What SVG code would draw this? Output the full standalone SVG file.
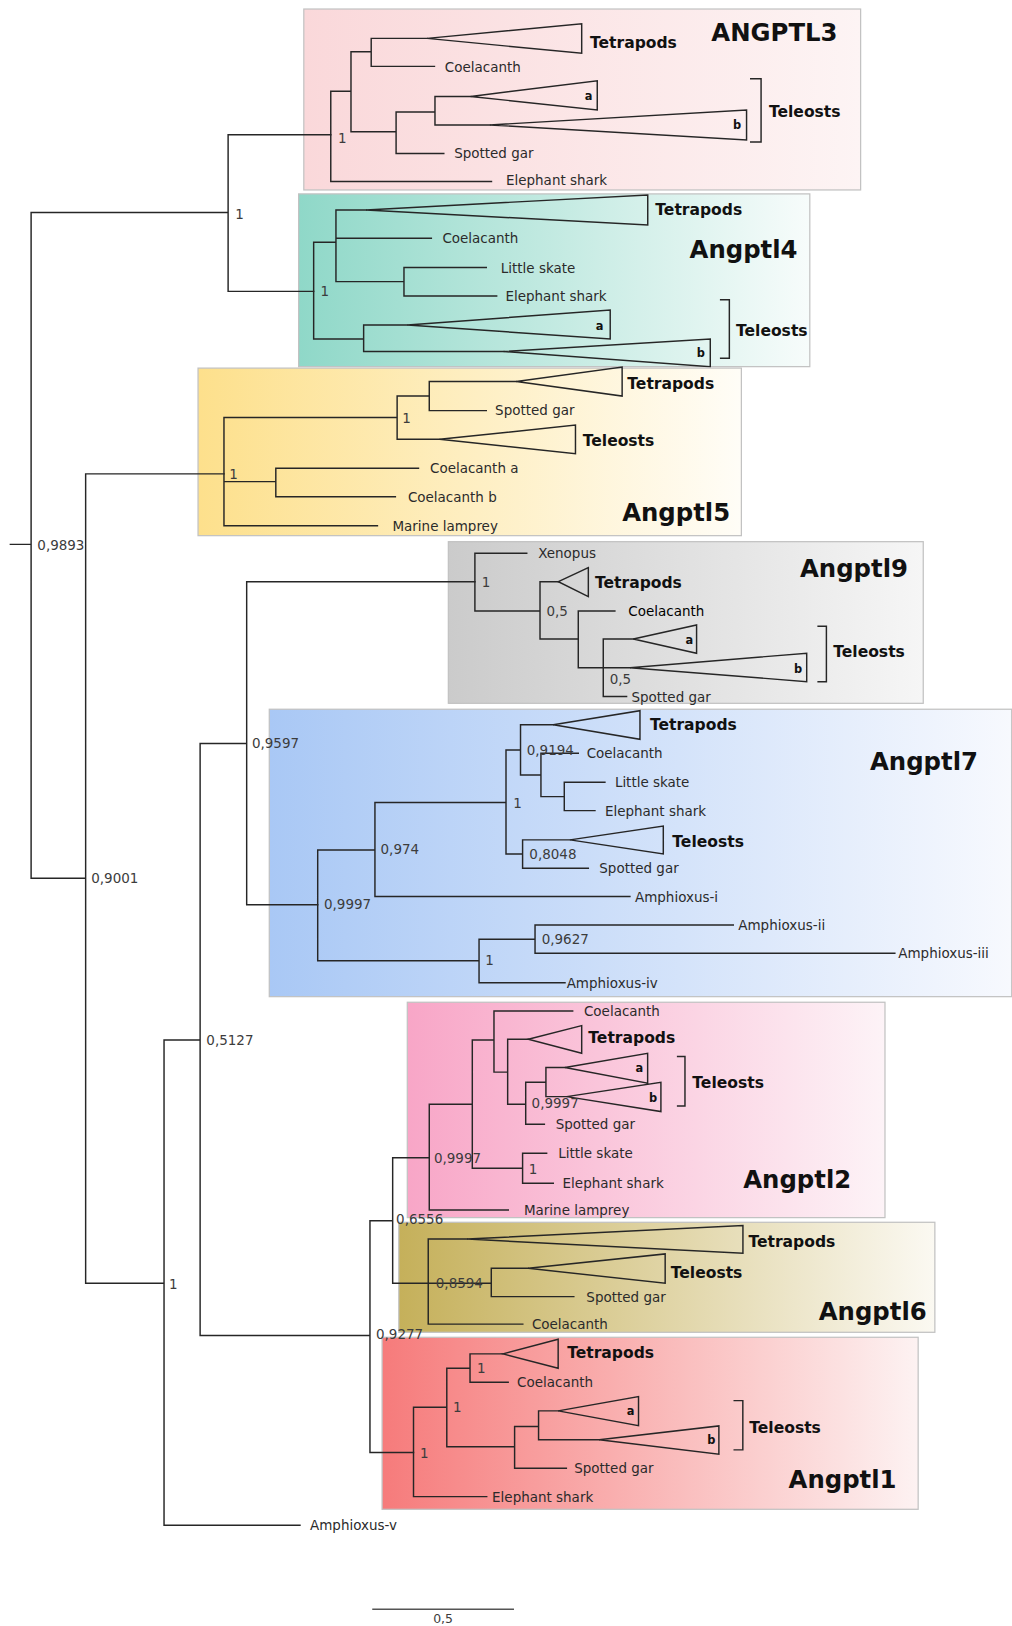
<svg xmlns="http://www.w3.org/2000/svg" width="1012" height="1626" viewBox="0 0 1012 1626">
<style>
.br{fill:none;stroke:#262626;stroke-width:1.4;stroke-linecap:square}
.tri{fill:none;stroke:#262626;stroke-width:1.4;stroke-linejoin:miter}
.box{stroke:#c2c2c2;stroke-width:1.2}
text{font-family:"DejaVu Sans","Liberation Sans",sans-serif;dominant-baseline:central}
.lf{font-size:13px;fill:#2b2b2b}
.bs{font-size:13px;fill:#3c3c3c}
.cl{font-size:15px;font-weight:bold;fill:#111}
.ab{font-size:11px;font-weight:bold;fill:#111}
.ti{font-size:23.5px;font-weight:bold;fill:#111}
</style>
<defs>
<linearGradient id="g3"><stop offset="0" stop-color="#fad8da"/><stop offset="1" stop-color="#fdf4f4"/></linearGradient>
<linearGradient id="g4"><stop offset="0" stop-color="#8fd8c8"/><stop offset="1" stop-color="#f7fcfb"/></linearGradient>
<linearGradient id="g5"><stop offset="0" stop-color="#fde08c"/><stop offset="1" stop-color="#fffdf7"/></linearGradient>
<linearGradient id="g9"><stop offset="0" stop-color="#cbcbcb"/><stop offset="1" stop-color="#f6f6f6"/></linearGradient>
<linearGradient id="g7"><stop offset="0" stop-color="#a9c8f5"/><stop offset="1" stop-color="#f7f9fe"/></linearGradient>
<linearGradient id="g2"><stop offset="0" stop-color="#f8a6c7"/><stop offset="1" stop-color="#fdf3f7"/></linearGradient>
<linearGradient id="g6"><stop offset="0" stop-color="#c5b05a"/><stop offset="1" stop-color="#fbf9f2"/></linearGradient>
<linearGradient id="g1"><stop offset="0" stop-color="#f67b7b"/><stop offset="1" stop-color="#fdf2f2"/></linearGradient>
</defs>
<rect width="1012" height="1626" fill="#ffffff"/>
<g transform="scale(1.03689)">

<g id="ANGPTL3">
<rect class="box" x="293" y="8.7" width="537" height="174.5" fill="url(#g3)"/>
<text class="ti" x="686" y="31">ANGPTL3</text>
<path class="br" d="M319,88 V175 M319,88 H338.5 M338.5,50 V127 M338.5,50 H358 M358,37 V64 M358,37 H412 M358,64 H419 M338.5,127 H382 M382,108 V148 M382,148 H428 M382,108 H419.5 M419.5,93 V120.5 M419.5,93 H454 M419.5,120.5 H472.5 M319,175 H474"/>
<path class="tri" d="M412,37 L561,23 V51.4 Z M454,93 L576,78 V106 Z M472.5,120.5 L720,106 V135 Z"/>
<path class="br" d="M724,76 H734 V137 H724"/>
<text class="bs" x="326" y="133">1</text>
<text class="cl" x="569" y="41">Tetrapods</text>
<text class="lf" x="429" y="64.5">Coelacanth</text>
<text class="ab" x="564" y="93">a</text>
<text class="ab" x="707" y="121">b</text>
<text class="cl" x="741.6" y="108">Teleosts</text>
<text class="lf" x="438" y="148">Spotted gar</text>
<text class="lf" x="488" y="174">Elephant shark</text>
</g>

<g id="Angptl4">
<rect class="box" x="288" y="187" width="493" height="166.6" fill="url(#g4)"/>
<text class="ti" x="665" y="241">Angptl4</text>
<path class="br" d="M302.5,233.7 V327 M302.5,233.7 H324 M324,202.5 V271.6 M324,202.5 H353 M324,229.8 H416 M324,271.6 H389.6 M389.6,258 V285.5 M389.6,258 H469 M389.6,285.5 H479 M302.5,327 H350.7 M350.7,313.4 V339 M350.7,313.4 H393 M350.7,339 H485.8"/>
<path class="tri" d="M353,202.5 L624.7,188 V217 Z M393,313.4 L588.5,299 V327 Z M485.8,339 L685,327 V353.6 Z"/>
<path class="br" d="M695,289 H703.4 V345.6 H695"/>
<text class="bs" x="309" y="281">1</text>
<text class="cl" x="632" y="203">Tetrapods</text>
<text class="lf" x="426.7" y="229.8">Coelacanth</text>
<text class="lf" x="483" y="258">Little skate</text>
<text class="lf" x="487.5" y="285.5">Elephant shark</text>
<text class="ab" x="574.5" y="314">a</text>
<text class="ab" x="672" y="340">b</text>
<text class="cl" x="709.8" y="319">Teleosts</text>
</g>

<g id="Angptl5">
<rect class="box" x="191" y="355" width="524" height="161.6" fill="url(#g5)"/>
<text class="ti" x="600" y="494">Angptl5</text>
<path class="br" d="M216,402.6 V507 M216,402.6 H383 M383,382 V423.7 M383,382 H414 M414,368 V396 M414,368 H498 M414,396 H469 M383,423.7 H424 M216,464.5 H266 M266,451.6 V479 M266,451.6 H403.6 M266,479 H381.3 M216,507 H364"/>
<path class="tri" d="M498,368 L600,354 V382 Z M424,423.7 L555,410 V437.6 Z"/>
<text class="bs" x="221" y="457.5">1</text>
<text class="bs" x="388" y="403.6">1</text>
<text class="cl" x="605" y="370">Tetrapods</text>
<text class="lf" x="477.5" y="395">Spotted gar</text>
<text class="cl" x="562" y="425">Teleosts</text>
<text class="lf" x="414.7" y="451.6">Coelacanth a</text>
<text class="lf" x="393.4" y="479">Coelacanth b</text>
<text class="lf" x="378.5" y="507">Marine lamprey</text>
</g>

<g id="Angptl9">
<rect class="box" x="432.4" y="522.4" width="458" height="155.9" fill="url(#g9)"/>
<text class="ti" x="771.5" y="548">Angptl9</text>
<path class="br" d="M458,533.6 V589.3 M458,533.6 H508 M458,589.3 H520.8 M520.8,561 V616.3 M520.8,561 H538.5 M520.8,616.3 H557.7 M557.7,589.3 V643.9 M557.7,589.3 H593 M557.7,643.9 H607.6 M581.8,616.3 V671.8 M581.8,616.3 H610.8 M581.8,671.8 H604.3"/>
<path class="tri" d="M538.5,561 L567.4,547.4 V575.4 Z M607.6,643.9 L778,630 V657.4 Z M610.8,616.3 L671.8,602.7 V630 Z"/>
<path class="br" d="M789,604 H797 V657.4 H789"/>
<text class="bs" x="464.5" y="561">1</text>
<text class="lf" x="519" y="533.6">Xenopus</text>
<text class="cl" x="573.8" y="562.6">Tetrapods</text>
<text class="bs" x="527" y="589.3">0,5</text>
<text class="lf" x="606" y="589.3" style="fill:#000">Coelacanth</text>
<text class="ab" x="661" y="617">a</text>
<text class="ab" x="765.7" y="645">b</text>
<text class="bs" x="588" y="655">0,5</text>
<text class="lf" x="609" y="671.8">Spotted gar</text>
<text class="cl" x="803.6" y="629">Teleosts</text>
</g>

<g id="Angptl7">
<rect class="box" x="259.7" y="684" width="716" height="277.2" fill="url(#g7)"/>
<text class="ti" x="839" y="734.5">Angptl7</text>
<path class="br" d="M306.4,819.7 V926.5 M306.4,819.7 H361.6 M361.6,774 V864.7 M361.6,864.7 H607.5 M361.6,774 H488 M488,723.3 V823.6 M488,723.3 H502 M502,699 V747.4 M502,699 H533.6 M502,747.4 H521.7 M521.7,726.5 V768.3 M521.7,726.5 H557.7 M521.7,768.3 H544.2 M544.2,754.4 V781.8 M544.2,754.4 H583.4 M544.2,781.8 H573.8 M488,823.6 H504 M504,810 V837.4 M504,810 H549.7 M504,837.4 H567.4 M306.4,926.5 H462 M462,905.9 V947.7 M462,905.9 H516 M516,892 V919.4 M516,892 H707.2 M516,919.4 H863 M462,947.7 H544.9"/>
<path class="tri" d="M533.6,699 L617.2,685.4 V713 Z M549.7,810 L639.7,796.6 V823.6 Z"/>
<text class="bs" x="312.5" y="872">0,9997</text>
<text class="bs" x="367" y="818.7">0,974</text>
<text class="lf" x="612.4" y="864.7">Amphioxus-i</text>
<text class="bs" x="495" y="774">1</text>
<text class="bs" x="508" y="723">0,9194</text>
<text class="cl" x="626.8" y="699">Tetrapods</text>
<text class="lf" x="565.8" y="726.5">Coelacanth</text>
<text class="lf" x="593" y="754.4">Little skate</text>
<text class="lf" x="583.4" y="781.8">Elephant shark</text>
<text class="bs" x="510.5" y="823.6">0,8048</text>
<text class="cl" x="648.4" y="811.7">Teleosts</text>
<text class="lf" x="578" y="837.4">Spotted gar</text>
<text class="bs" x="468" y="926">1</text>
<text class="bs" x="522.4" y="905.9">0,9627</text>
<text class="lf" x="712" y="892">Amphioxus-ii</text>
<text class="lf" x="866.3" y="919.4">Amphioxus-iii</text>
<text class="lf" x="546.5" y="947.7">Amphioxus-iv</text>
</g>

<g id="Angptl2">
<rect class="box" x="392.8" y="966.6" width="460.7" height="207.7" fill="url(#g2)"/>
<text class="ti" x="716.8" y="1138">Angptl2</text>
<path class="br" d="M414,1065 V1167 M414,1167 H490.2 M414,1065 H455.5 M455.5,1003 V1126.7 M455.5,1126.7 H504 M504,1112.2 V1141.2 M504,1112.2 H527.2 M504,1141.2 H533.6 M455.5,1003 H476.4 M476.4,975 V1034 M476.4,975 H552.3 M476.4,1034 H489.6 M489.6,1002.3 V1065 M489.6,1002.3 H509.5 M489.6,1065 H507 M507,1043.8 V1084.3 M507,1043.8 H526.5 M526.5,1029.6 V1057.6 M526.5,1029.6 H544.9 M526.5,1057.6 H546.5 M507,1084.3 H525"/>
<path class="tri" d="M509.5,1002.3 L561,989.1 V1015.8 Z M544.9,1029.6 L624.6,1015.8 V1044.7 Z M546.5,1057.6 L637.4,1043.8 V1072 Z"/>
<path class="br" d="M653.5,1019 H660.6 V1066.6 H653.5"/>
<text class="bs" x="418.5" y="1117">0,9997</text>
<text class="bs" x="510" y="1127">1</text>
<text class="lf" x="538.4" y="1112.2">Little skate</text>
<text class="lf" x="542.6" y="1141.2">Elephant shark</text>
<text class="lf" x="505.3" y="1167">Marine lamprey</text>
<text class="lf" x="563.2" y="975">Coelacanth</text>
<text class="cl" x="567.4" y="1001.3">Tetrapods</text>
<text class="ab" x="613" y="1030">a</text>
<text class="ab" x="625.8" y="1059">b</text>
<text class="bs" x="512.7" y="1064">0,9997</text>
<text class="lf" x="535.9" y="1084.3">Spotted gar</text>
<text class="cl" x="667.7" y="1044.7">Teleosts</text>
</g>

<g id="Angptl6">
<rect class="box" x="384.6" y="1178.8" width="517" height="106.1" fill="url(#g6)"/>
<text class="ti" x="789.6" y="1265">Angptl6</text>
<path class="br" d="M413,1195 V1277 M413,1195 H450.7 M413,1277 H504.2 M413,1237.6 H473.8 M473.8,1223.2 V1250.5 M473.8,1223.2 H509.5 M473.8,1250.5 H553.4"/>
<path class="tri" d="M450.7,1195 L716.5,1182 V1208.7 Z M509.5,1223.2 L641.5,1209.3 V1237.6 Z"/>
<text class="bs" x="420.3" y="1237">0,8594</text>
<text class="cl" x="721.8" y="1197.5">Tetrapods</text>
<text class="cl" x="646.9" y="1228">Teleosts</text>
<text class="lf" x="565.5" y="1250.5">Spotted gar</text>
<text class="lf" x="513" y="1277">Coelacanth</text>
</g>

<g id="Angptl1">
<rect class="box" x="368.5" y="1289.7" width="517" height="165.9" fill="url(#g1)"/>
<text class="ti" x="760.5" y="1427.3">Angptl1</text>
<path class="br" d="M398.8,1357.2 V1443.4 M398.8,1443.4 H469.4 M398.8,1357.2 H430.9 M430.9,1319.6 V1395.2 M430.9,1319.6 H453.3 M453.3,1305.7 V1333.1 M453.3,1305.7 H485 M453.3,1333.1 H490.1 M430.9,1395.2 H496.3 M496.3,1375.8 V1416 M496.3,1416 H546.2 M496.3,1375.8 H519.4 M519.4,1360.7 V1388.6 M519.4,1360.7 H538.3 M519.4,1388.6 H577.9"/>
<path class="tri" d="M485,1305.7 L538.3,1291.6 V1319.6 Z M538.3,1360.7 L615.8,1346.9 V1374.9 Z M577.9,1388.6 L693.3,1375.2 V1402.5 Z"/>
<path class="br" d="M708.1,1350.8 H716.4 V1398.3 H708.1"/>
<text class="bs" x="405" y="1401">1</text>
<text class="bs" x="437" y="1357">1</text>
<text class="bs" x="460" y="1319.6">1</text>
<text class="cl" x="547" y="1305">Tetrapods</text>
<text class="lf" x="498.7" y="1333.1">Coelacanth</text>
<text class="ab" x="604.5" y="1361">a</text>
<text class="ab" x="682" y="1389">b</text>
<text class="lf" x="553.8" y="1416">Spotted gar</text>
<text class="lf" x="474.6" y="1443.4">Elephant shark</text>
<text class="cl" x="722.6" y="1376.8">Teleosts</text>
</g>

<g id="connectors">
<path class="br" d="M10,525 H30 M30,205 V847 M30,205 H220 M220,130 V281 M220,130 H319 M220,281 H302.5 M30,847 H82.6 M82.6,457 V1237.6 M82.6,457 H216 M82.6,1237.6 H158.2 M158.2,1003 V1471 M158.2,1471 H289.3 M158.2,1003 H193 M193,717 V1288 M193,717 H237.9 M237.9,561 V872.5 M237.9,561 H458 M237.9,872.5 H306.4 M193,1288 H356.8 M356.8,1177.3 V1400.8 M356.8,1177.3 H378.7 M378.7,1116.6 V1237.6 M378.7,1116.6 H414 M378.7,1237.6 H413 M356.8,1400.8 H398.8"/>
<text class="bs" x="36" y="526">0,9893</text>
<text class="bs" x="227" y="206">1</text>
<text class="bs" x="88" y="847">0,9001</text>
<text class="bs" x="163" y="1238">1</text>
<text class="bs" x="199" y="1003">0,5127</text>
<text class="bs" x="243" y="717">0,9597</text>
<text class="bs" x="382" y="1176">0,6556</text>
<text class="bs" x="362.6" y="1286.5">0,9277</text>
<text class="lf" x="299" y="1471">Amphioxus-v</text>
</g>

<g id="scale-bar">
<path d="M359,1552 H495.7" fill="none" stroke="#555" stroke-width="1.4"/>
<text class="bs" x="427.3" y="1560.5" text-anchor="middle" style="font-size:12px">0,5</text>
</g>
</g>
</svg>
